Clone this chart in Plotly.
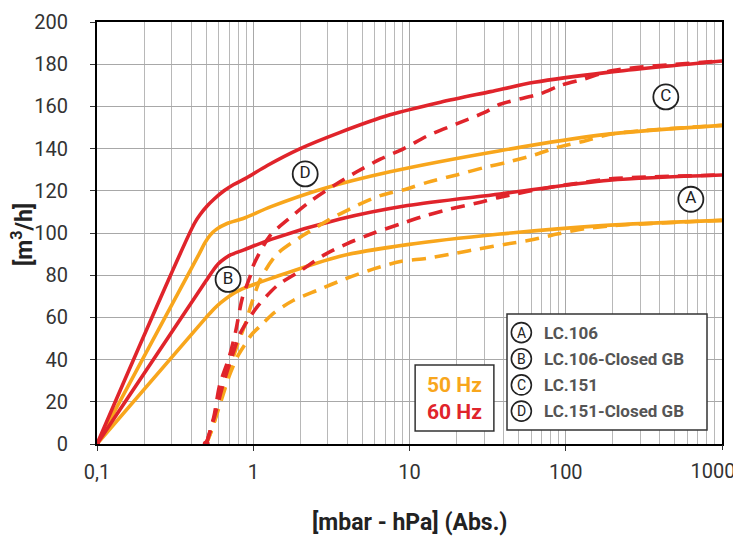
import plotly.graph_objects as go

# ---- data ----
p_A_60 = [0.1, 0.5, 0.55, 0.6, 0.66, 0.72, 0.87, 1.3, 3.6, 9.7, 38, 190, 1000]
q_A_60 = [0, 77.5, 82, 85.5, 88, 89.7, 92, 97, 106.6, 113, 118.5, 125, 127.5]

p_A_50 = [0.1, 0.5, 0.56, 0.62, 0.71, 0.85, 0.96, 1.3, 3.6, 9.7, 38, 170, 1000]
q_A_50 = [0, 60, 64, 67, 70.3, 73.5, 75, 78.5, 89, 94.5, 99.5, 103.5, 106]

p_C_60 = [0.1, 0.42, 0.46, 0.51, 0.56, 0.65, 0.75, 0.9, 1.23, 2, 3.6, 7.5, 15.8, 33, 63, 180, 1000]
q_C_60 = [0, 104.5, 109, 113, 116, 120, 123, 126, 132, 140, 147.7, 156, 162, 167, 171.4, 176, 181.5]

p_C_50 = [0.1, 0.45, 0.49, 0.53, 0.58, 0.68, 0.87, 1.3, 2.8, 7.5, 38, 170, 1000]
q_C_50 = [0, 90, 95.3, 99, 101.7, 104.5, 107, 112.5, 121, 129, 139, 146.5, 151]

p_B_60 = [0.5, 0.57, 0.64, 0.72, 0.82, 0.93, 1.06, 1.42, 2, 2.83, 4, 5.9, 8.75, 12.4, 18.3, 28, 38, 80, 131, 200, 1000]
q_B_60 = [0, 14, 28, 40, 52, 59, 65, 75, 82, 89.5, 95, 100, 104.3, 108, 111.4, 114.5, 117, 121.7, 124, 125.8, 127.5]

p_B_50 = [0.5, 0.55, 0.62, 0.7, 0.8, 0.9, 0.98, 1.15, 1.35, 1.8, 2.6, 3.8, 5.9, 8.75, 13, 20, 28, 42, 63, 88, 131, 200, 1000]
q_B_50 = [0, 8, 20, 32, 42, 48, 52, 57, 62, 68, 73, 78, 83, 86.5, 88, 90.5, 92.5, 94.8, 97, 99.5, 102, 103.5, 106]

p_D_60 = [0.5, 0.56, 0.61, 0.7, 0.77, 0.85, 0.96, 1.0, 1.28, 1.68, 2.32, 3.27, 4.6, 6.5, 9.2, 13, 20, 30, 38, 69, 93, 131, 200, 1000]
q_D_60 = [0, 13, 28, 41, 53, 69, 80, 84.5, 98.7, 106.6, 115, 122.4, 129, 135, 140, 146, 151.7, 157, 161, 166, 170, 173, 177, 181.5]

p_D_50 = [0.5, 0.55, 0.62, 0.7, 0.8, 0.9, 0.96, 1.11, 1.42, 2.1, 3.1, 4.6, 6.5, 9.7, 13, 20, 30, 42, 63, 88, 131, 200, 1000]
q_D_50 = [0, 8, 22, 35, 48, 58, 65, 78, 90, 99, 106.5, 113, 117.7, 121, 124, 127.5, 131, 133.5, 137, 140.5, 143.5, 147, 151]

label_letters = ["A", "B", "C", "D"]
label_p = [632, 0.69, 437, 2.15]
label_q = [116, 78, 164.5, 128]
legend_names = ["LC.106", "LC.106-Closed GB", "LC.151", "LC.151-Closed GB"]
freq_labels = ["50 Hz", "60 Hz"]

x_tickvals = [0.1, 1, 10, 100, 1000]
x_ticktext = ["0,1", "1", "10", "100", "1000"]

RED = "#E0242B"
ORANGE = "#F8A61C"
FONT = "Roboto, Liberation Sans, sans-serif"

fig = go.Figure()

def add(p, q, color, dashed):
    fig.add_trace(go.Scatter(
        x=p, y=q, mode="lines",
        line=dict(color=color, width=3.6, shape="spline", smoothing=0.8,
                  dash="14px,9px" if dashed else "solid"),
        showlegend=False, hoverinfo="skip"))

add(p_A_50, q_A_50, ORANGE, False)
add(p_C_50, q_C_50, ORANGE, False)
add(p_A_60, q_A_60, RED, False)
add(p_C_60, q_C_60, RED, False)
add(p_B_50, q_B_50, ORANGE, True)
add(p_D_50, q_D_50, ORANGE, True)
add(p_B_60, q_B_60, RED, True)
add(p_D_60, q_D_60, RED, True)

# start dots
fig.add_trace(go.Scatter(x=[p_B_60[0]], y=[q_B_60[0]], mode="markers",
                         marker=dict(color=RED, size=7), showlegend=False, hoverinfo="skip"))
fig.add_trace(go.Scatter(x=[p_A_60[0]], y=[q_A_60[0]], mode="markers",
                         marker=dict(color=RED, size=6), showlegend=False, hoverinfo="skip"))

# circled letters on the curves
fig.add_trace(go.Scatter(
    x=label_p, y=label_q, mode="markers+text", text=label_letters,
    textposition="middle center",
    textfont=dict(family="Roboto", size=17, color="#222"),
    marker=dict(symbol="circle", size=25, color="white", line=dict(color="#222", width=1.8)),
    showlegend=False, hoverinfo="skip"))

# invisible helper trace so the overlay axis (last tick label) is drawn
fig.add_trace(go.Scatter(x=[x_tickvals[-1]], y=[0], xaxis="x2", mode="markers",
                         marker=dict(opacity=0), showlegend=False, hoverinfo="skip"))

minor_vals = [m * 10 ** e for e in range(-1, 3) for m in range(2, 10)]
tick_font = dict(family=FONT, size=20, color="#333")

fig.update_layout(
    xaxis=dict(
        type="log", range=[-1, 3], automargin=False,
        tickvals=x_tickvals[:-1], ticktext=x_ticktext[:-1],
        tickfont=tick_font,
        ticks="outside", ticklen=5, tickcolor="#333", ticklabelstandoff=4,
        showline=True, linecolor="black", linewidth=2, mirror=True,
        showgrid=True, gridcolor="#a8a8a8", gridwidth=1,
        minor=dict(tickvals=minor_vals + x_tickvals[-1:], showgrid=True, gridcolor="#b8b8b8",
                   gridwidth=1, ticks=""),
        zeroline=False),
    xaxis2=dict(
        type="log", range=[-1, 3], automargin=False, overlaying="x", anchor="y", side="bottom",
        tickvals=x_tickvals[-1:], ticktext=x_ticktext[-1:],
        tickfont=tick_font, ticks="outside", ticklen=5, tickcolor="#333",
        ticklabelstandoff=4, ticklabelshift=-9,
        showline=False, showgrid=False, zeroline=False),
    yaxis=dict(
        range=[0, 200], dtick=20, automargin=False,
        tickfont=tick_font,
        ticks="outside", ticklen=5, tickcolor="#333", ticklabelstandoff=18,
        showline=True, linecolor="black", linewidth=2, mirror=True,
        showgrid=True, gridcolor="#a8a8a8", gridwidth=1,
        zeroline=False),
)

shapes = []
shapes.append(dict(type="rect", xref="paper", yref="paper", x0=0.509, x1=0.635, y0=0.031, y1=0.187,
                   line=dict(color="#333", width=1.5), fillcolor="white", layer="above"))
shapes.append(dict(type="rect", xref="paper", yref="paper", x0=0.656, x1=0.976, y0=0.033, y1=0.308,
                   line=dict(color="#333", width=1.5), fillcolor="white", layer="above"))

annotations = []
annotations.append(dict(xref="paper", yref="paper", x=0.5, y=-0.185, text="<b>[mbar - hPa] (Abs.)</b>",
                        showarrow=False, font=dict(family=FONT, size=23, color="#222"),
                        xanchor="center", yanchor="middle"))
annotations.append(dict(xref="paper", yref="paper", x=-0.12, y=0.495, text="<b>[m<sup>3</sup>/h]</b>",
                        showarrow=False, textangle=-90, font=dict(family=FONT, size=23, color="#222"),
                        xanchor="center", yanchor="middle"))

for i, (f, c) in enumerate(zip(freq_labels, [ORANGE, RED])):
    annotations.append(dict(xref="paper", yref="paper", x=0.572, y=0.139 - i * 0.062,
                            text="<b>%s</b>" % f, showarrow=False,
                            font=dict(family=FONT, size=21, color=c), xanchor="center", yanchor="middle"))

row_y = [0.264, 0.202, 0.140, 0.078]
r_x = 10 / 625
r_y = 10 / 422
for i, (l, n) in enumerate(zip(label_letters, legend_names)):
    cx = 0.679
    shapes.append(dict(type="circle", xref="paper", yref="paper",
                       x0=cx - r_x, x1=cx + r_x, y0=row_y[i] - r_y, y1=row_y[i] + r_y,
                       line=dict(color="#222", width=1.6), layer="above"))
    annotations.append(dict(xref="paper", yref="paper", x=cx, y=row_y[i], text=l, showarrow=False,
                            font=dict(family="Roboto", size=14, color="#222"),
                            xanchor="center", yanchor="middle"))
    annotations.append(dict(xref="paper", yref="paper", x=0.712, y=row_y[i], text="<b>%s</b>" % n,
                            showarrow=False, font=dict(family=FONT, size=17, color="#555"),
                            xanchor="left", yanchor="middle"))

fig.update_layout(
    width=741, height=544,
    margin=dict(l=89, r=27, t=14, b=108),
    plot_bgcolor="white", paper_bgcolor="white",
    shapes=shapes, annotations=annotations, showlegend=False)

fig.write_html("out.html")
